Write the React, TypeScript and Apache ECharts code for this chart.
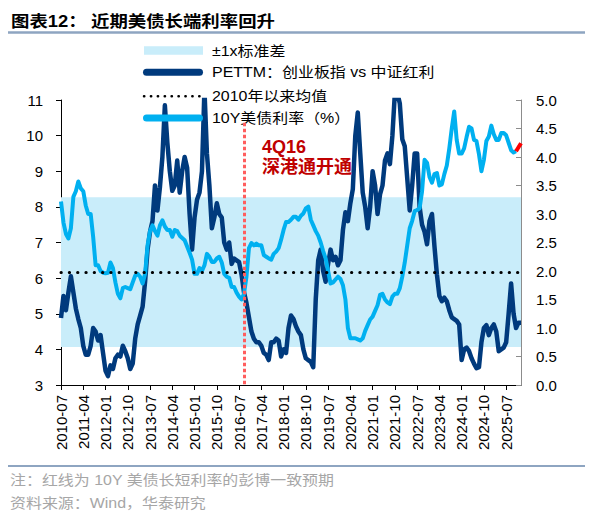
import React, { useEffect, useRef } from "react";
import * as echarts from "echarts";

// ---- data ----
const START_YEAR = 2010;
const START_MONTH = 7;
const MONTH_COUNT = 187; // 2010-07 .. 2026-01

const categories: string[] = [];
for (let i = 0; i < MONTH_COUNT; i++) {
  const t = START_MONTH - 1 + i;
  const y = START_YEAR + Math.floor(t / 12);
  const m = (t % 12) + 1;
  categories.push(`${y}-${String(m).padStart(2, "0")}`);
}

// PETTM ratio: ChiNext vs CSI Dividend (left axis)
const peRatio: number[] = [
  4.88, 5.5, 5.1, 5.6, 6.05, 5.6, 5.15, 4.85, 4.6, 4.1, 3.85, 3.85, 4.1, 4.6, 4.5, 4.25, 4.4, 3.9, 3.4, 3.25,
  3.55, 3.45, 3.75, 3.85, 3.8, 4.1, 3.95, 3.75, 3.45, 3.6, 4.3, 4.7, 4.95, 5.2, 5.9, 6.8, 7.3, 7.6, 8.6, 7.9,
  8.55, 9.4, 10.85, 9.8, 9.0, 8.45, 8.6, 9.3, 8.4, 9.0, 9.4, 9.1, 7.8, 6.8, 7.7, 8.2, 8.4, 9.0, 11.3, 9.5,
  8.6, 7.4, 7.7, 8.1, 7.8, 7.7, 7.0, 6.8, 7.0, 6.4, 6.55, 6.5, 6.45, 6.1, 5.6, 5.3, 4.9, 4.5, 4.3, 4.2,
  4.2, 4.1, 3.9, 3.85, 3.7, 4.2, 4.2, 4.3, 4.25, 3.8, 4.0, 3.9, 4.6, 4.95, 4.85, 4.65, 4.5, 4.4, 4.0, 3.75,
  3.7, 3.65, 3.5, 5.4, 6.5, 6.8, 6.2, 5.9, 6.4, 6.8, 6.5, 6.6, 6.36, 6.5, 7.35, 7.85, 7.6, 8.1, 8.5, 10.0,
  10.65, 9.5, 8.4, 8.0, 7.4, 8.0, 9.0, 8.6, 7.8, 8.35, 8.6, 9.3, 9.5, 9.2, 10.0, 11.2, 11.2, 10.9, 9.9, 9.7,
  8.8, 7.9, 8.6, 9.5, 9.5, 8.0, 7.5, 7.3, 6.95, 7.6, 7.8, 6.9, 6.1, 5.5, 5.35, 5.45, 5.35, 5.1, 4.9, 4.85,
  4.8, 4.7, 3.7, 4.0, 4.05, 3.95, 3.75, 3.6, 3.47, 3.5, 4.2, 4.6, 4.68, 4.4, 4.6, 4.7, 4.5, 3.95, 4.0, 4.05,
  4.2, 5.0, 5.85, 5.0, 4.6, 4.75, 4.75,
];

// US 10Y Treasury yield, % (right axis)
const ust10y: number[] = [
  3.22, 2.85, 2.65, 2.57, 2.75, 3.3, 3.4, 3.57, 3.45, 3.4, 3.15, 3.0, 3.0, 2.6, 2.1, 2.1, 2.0, 1.97, 1.96, 1.97,
  2.15, 2.05, 1.8, 1.6, 1.52, 1.7, 1.72, 1.7, 1.68, 1.8, 1.92, 1.95, 1.9, 1.78, 1.95, 2.45, 2.7, 2.8, 2.7, 2.62,
  2.8, 2.89, 2.78, 2.72, 2.72, 2.6, 2.72, 2.7, 2.62, 2.58, 2.54, 2.43, 2.32, 2.2, 1.95, 1.95, 2.05, 2.0, 2.1, 2.3,
  2.25, 2.16, 2.16, 2.22, 2.25, 2.15, 1.95, 1.9, 1.88, 1.72, 1.72, 1.62, 1.55, 1.5, 1.6, 1.9, 2.4, 2.49, 2.45, 2.48,
  2.45, 2.45, 2.28, 2.25, 2.22, 2.2, 2.3, 2.34, 2.4, 2.55, 2.72, 2.86, 2.86, 2.9, 2.95, 2.95, 2.9, 2.97, 3.01, 3.1,
  3.13, 2.9, 2.8, 2.7, 2.62, 2.5, 2.35, 2.22, 2.0, 1.78, 1.8, 1.85, 1.9, 1.86, 1.75, 1.5, 1.0, 0.82, 0.82, 0.82,
  0.8, 0.78, 0.82, 0.95, 1.05, 1.15, 1.2, 1.3, 1.4, 1.58, 1.6, 1.5, 1.45, 1.42, 1.55, 1.6, 1.6, 1.7, 1.9, 2.15,
  2.45, 2.75, 2.88, 3.05, 3.07, 3.1, 3.4, 3.95, 3.9, 3.65, 3.55, 3.7, 3.72, 3.5, 3.52, 3.7, 3.85, 4.15, 4.5, 4.8,
  4.3, 4.06, 4.06, 4.15, 4.35, 4.53, 4.5, 4.3, 4.28, 4.05, 3.75, 3.95, 4.28, 4.36, 4.55, 4.4, 4.3, 4.3, 4.42, 4.42,
  4.38, 4.25, 4.12, 4.08, 4.1,
];

// Bloomberg consensus forecast for the 10Y yield (red), starting at index 184
const FORECAST_START = 184;
const ust10yForecast: number[] = [4.1, 4.17, 4.24];

// statistics of the PETTM ratio since 2010
const peMean = 6.17;
const peBandLow = 4.07;
const peBandHigh = 8.27;

// event marker: 4Q16 Shenzhen-HK Stock Connect
const eventIndex = 73.5;
const eventTop = 4.6; // right-axis value at the top of the marker

const leftTicks = { min: 3, max: 11, interval: 1 };
const rightTicks = { min: 0, max: 5, interval: 0.5 };

const NAMES = {
  band: "±1x标准差",
  pe: "PETTM：创业板指 vs 中证红利",
  mean: "2010年以来均值",
  ust: "10Y美债利率（%）",
};

const C_DARK = "#003a7d";
const C_LIGHT = "#00b0f0";
const C_BAND = "#c9edfa";
const C_RED = "#ff5e5e";
const FONT = "'Liberation Sans', Arial, 'Noto Sans CJK SC', sans-serif";
const CJK = "'Liberation Sans', 'Noto Sans CJK SC', sans-serif";

export default function App() {
  const ref = useRef<HTMLDivElement>(null);

  useEffect(() => {
    if (!ref.current) return;
    const chart = echarts.init(ref.current, undefined, { renderer: "svg" });

    const forecastData: (number | null)[] = categories.map((_, i) =>
      i >= FORECAST_START && i < FORECAST_START + ust10yForecast.length
        ? ust10yForecast[i - FORECAST_START]
        : null
    );

    const legendText = (text: string, y: number) => ({
      type: "text",
      x: 212,
      y,
      scaleX: 1.14,
      style: {
        text,
        x: 0,
        y: 0,
        fontSize: 14,
        fontFamily: CJK,
        fill: "#000",
        align: "left",
        verticalAlign: "middle",
      },
    });

    const option: any = {
      animation: false,
      backgroundColor: "#fff",
      grid: { left: 61, right: 77, top: 100, bottom: 138, containLabel: false },
      xAxis: {
        type: "category",
        data: categories,
        boundaryGap: false,
        axisLine: { lineStyle: { color: "#000", width: 1 } },
        axisTick: { interval: 8, length: 5, lineStyle: { color: "#000" } },
        axisLabel: {
          interval: 8,
          rotate: 90,
          margin: 10,
          fontSize: 15,
          color: "#000",
          fontFamily: FONT,
        },
        splitLine: { show: false },
      },
      yAxis: [
        {
          type: "value",
          min: leftTicks.min,
          max: leftTicks.max,
          interval: leftTicks.interval,
          axisLine: { show: true, lineStyle: { color: "#000" } },
          axisTick: { show: true, length: 5, lineStyle: { color: "#000" } },
          axisLabel: { fontSize: 15, color: "#000", margin: 18, fontFamily: FONT },
          splitLine: { show: false },
        },
        {
          type: "value",
          min: rightTicks.min,
          max: rightTicks.max,
          interval: rightTicks.interval,
          position: "right",
          axisLine: { show: true, lineStyle: { color: "#8c8c8c" } },
          axisTick: { show: true, inside: true, length: 5, lineStyle: { color: "#8c8c8c" } },
          axisLabel: {
            fontSize: 15,
            color: "#000",
            margin: 15,
            fontFamily: FONT,
            formatter: (v: number) => v.toFixed(1),
          },
          splitLine: { show: false },
        },
      ],
      series: [
        {
          name: NAMES.pe,
          type: "line",
          yAxisIndex: 0,
          data: peRatio,
          symbol: "none",
          lineStyle: { color: C_DARK, width: 4.5, join: "round" },
          itemStyle: { color: C_DARK },
          z: 3,
          markArea: {
            silent: true,
            itemStyle: { color: C_BAND, opacity: 1 },
            label: { show: false },
            data: [[{ yAxis: peBandLow }, { yAxis: peBandHigh }]],
            z: 1,
          },
          markLine: {
            silent: true,
            symbol: "none",
            label: { show: false },
            lineStyle: { color: "#000", width: 3, type: [0.3, 8], cap: "round" },
            data: [{ yAxis: peMean }],
          },
        },
        {
          name: NAMES.ust,
          type: "line",
          yAxisIndex: 1,
          data: ust10y,
          symbol: "none",
          lineStyle: { color: C_LIGHT, width: 4, join: "round" },
          itemStyle: { color: C_LIGHT },
          z: 4,
        },
        {
          name: "10Y美债利率预期",
          type: "line",
          yAxisIndex: 1,
          data: forecastData,
          symbol: "none",
          lineStyle: { color: "#ff0000", width: 4 },
          itemStyle: { color: "#ff0000" },
          z: 5,
          markLine: {
            silent: true,
            symbol: "none",
            label: { show: false },
            lineStyle: { color: C_RED, width: 3, type: [3.5, 2.5] },
            data: [[{ coord: [eventIndex, eventTop] }, { coord: [eventIndex, rightTicks.min] }]],
          },
        },
      ],
      graphic: [
        // title
        {
          type: "text",
          x: 11,
          y: 21,
          scaleX: 1.15,
          style: {
            text: "图表12：",
            fontSize: 16,
            fontWeight: "bold",
            fontFamily: CJK,
            fill: "#000",
            align: "left",
            verticalAlign: "middle",
          },
        },
        {
          type: "text",
          x: 91,
          y: 21,
          scaleX: 1.15,
          style: {
            text: "近期美债长端利率回升",
            fontSize: 16,
            fontWeight: "bold",
            fontFamily: CJK,
            fill: "#000",
            align: "left",
            verticalAlign: "middle",
          },
        },
        {
          type: "line",
          shape: { x1: 8, y1: 32.5, x2: 585, y2: 32.5 },
          style: { stroke: "#8ea5c1", lineWidth: 2.5 },
        },
        // legend
        {
          type: "rect",
          shape: { x: 144, y: 46.3, width: 59, height: 8.5 },
          style: { fill: C_BAND },
        },
        legendText(NAMES.band, 50.5),
        {
          type: "line",
          shape: { x1: 146.5, y1: 72.3, x2: 199.5, y2: 72.3 },
          style: { stroke: C_DARK, lineWidth: 7, lineCap: "round" },
        },
        legendText(NAMES.pe, 72.3),
        {
          type: "line",
          shape: { x1: 144, y1: 96.2, x2: 203, y2: 96.2 },
          style: { stroke: "#000", lineWidth: 2.5, lineDash: [0.3, 6.6], lineCap: "round" },
        },
        legendText(NAMES.mean, 96.2),
        {
          type: "line",
          shape: { x1: 146.5, y1: 118, x2: 199.5, y2: 118 },
          style: { stroke: C_LIGHT, lineWidth: 7, lineCap: "round" },
          z: 10,
        },
        legendText(NAMES.ust, 118),
        // annotation
        {
          type: "text",
          x: 262,
          y: 147,
          z: 10,
          style: {
            text: "4Q16",
            fontSize: 18,
            fontWeight: "bold",
            fontFamily: FONT,
            fill: "#c00000",
            align: "left",
            verticalAlign: "middle",
          },
        },
        {
          type: "text",
          x: 262,
          y: 167,
          z: 10,
          style: {
            text: "深港通开通",
            fontSize: 18,
            fontWeight: "bold",
            fontFamily: CJK,
            fill: "#c00000",
            align: "left",
            verticalAlign: "middle",
          },
        },
        // footer
        {
          type: "line",
          shape: { x1: 8, y1: 466, x2: 585, y2: 466 },
          style: { stroke: "#8ea5c1", lineWidth: 2 },
        },
        {
          type: "text",
          x: 10,
          y: 479.5,
          scaleX: 1.14,
          style: {
            text: "注：红线为 10Y 美债长短利率的彭博一致预期",
            fontSize: 14,
            fontFamily: CJK,
            fill: "#a6a6a6",
            align: "left",
            verticalAlign: "middle",
          },
        },
        {
          type: "text",
          x: 10,
          y: 503,
          scaleX: 1.14,
          style: {
            text: "资料来源：Wind，华泰研究",
            fontSize: 14,
            fontFamily: CJK,
            fill: "#a6a6a6",
            align: "left",
            verticalAlign: "middle",
          },
        },
      ],
    };

    chart.setOption(option);
    return () => chart.dispose();
  }, []);

  return (
    <div
      ref={ref}
      style={{ position: "fixed", left: 0, top: 0, width: 598, height: 523, background: "#fff" }}
    />
  );
}
